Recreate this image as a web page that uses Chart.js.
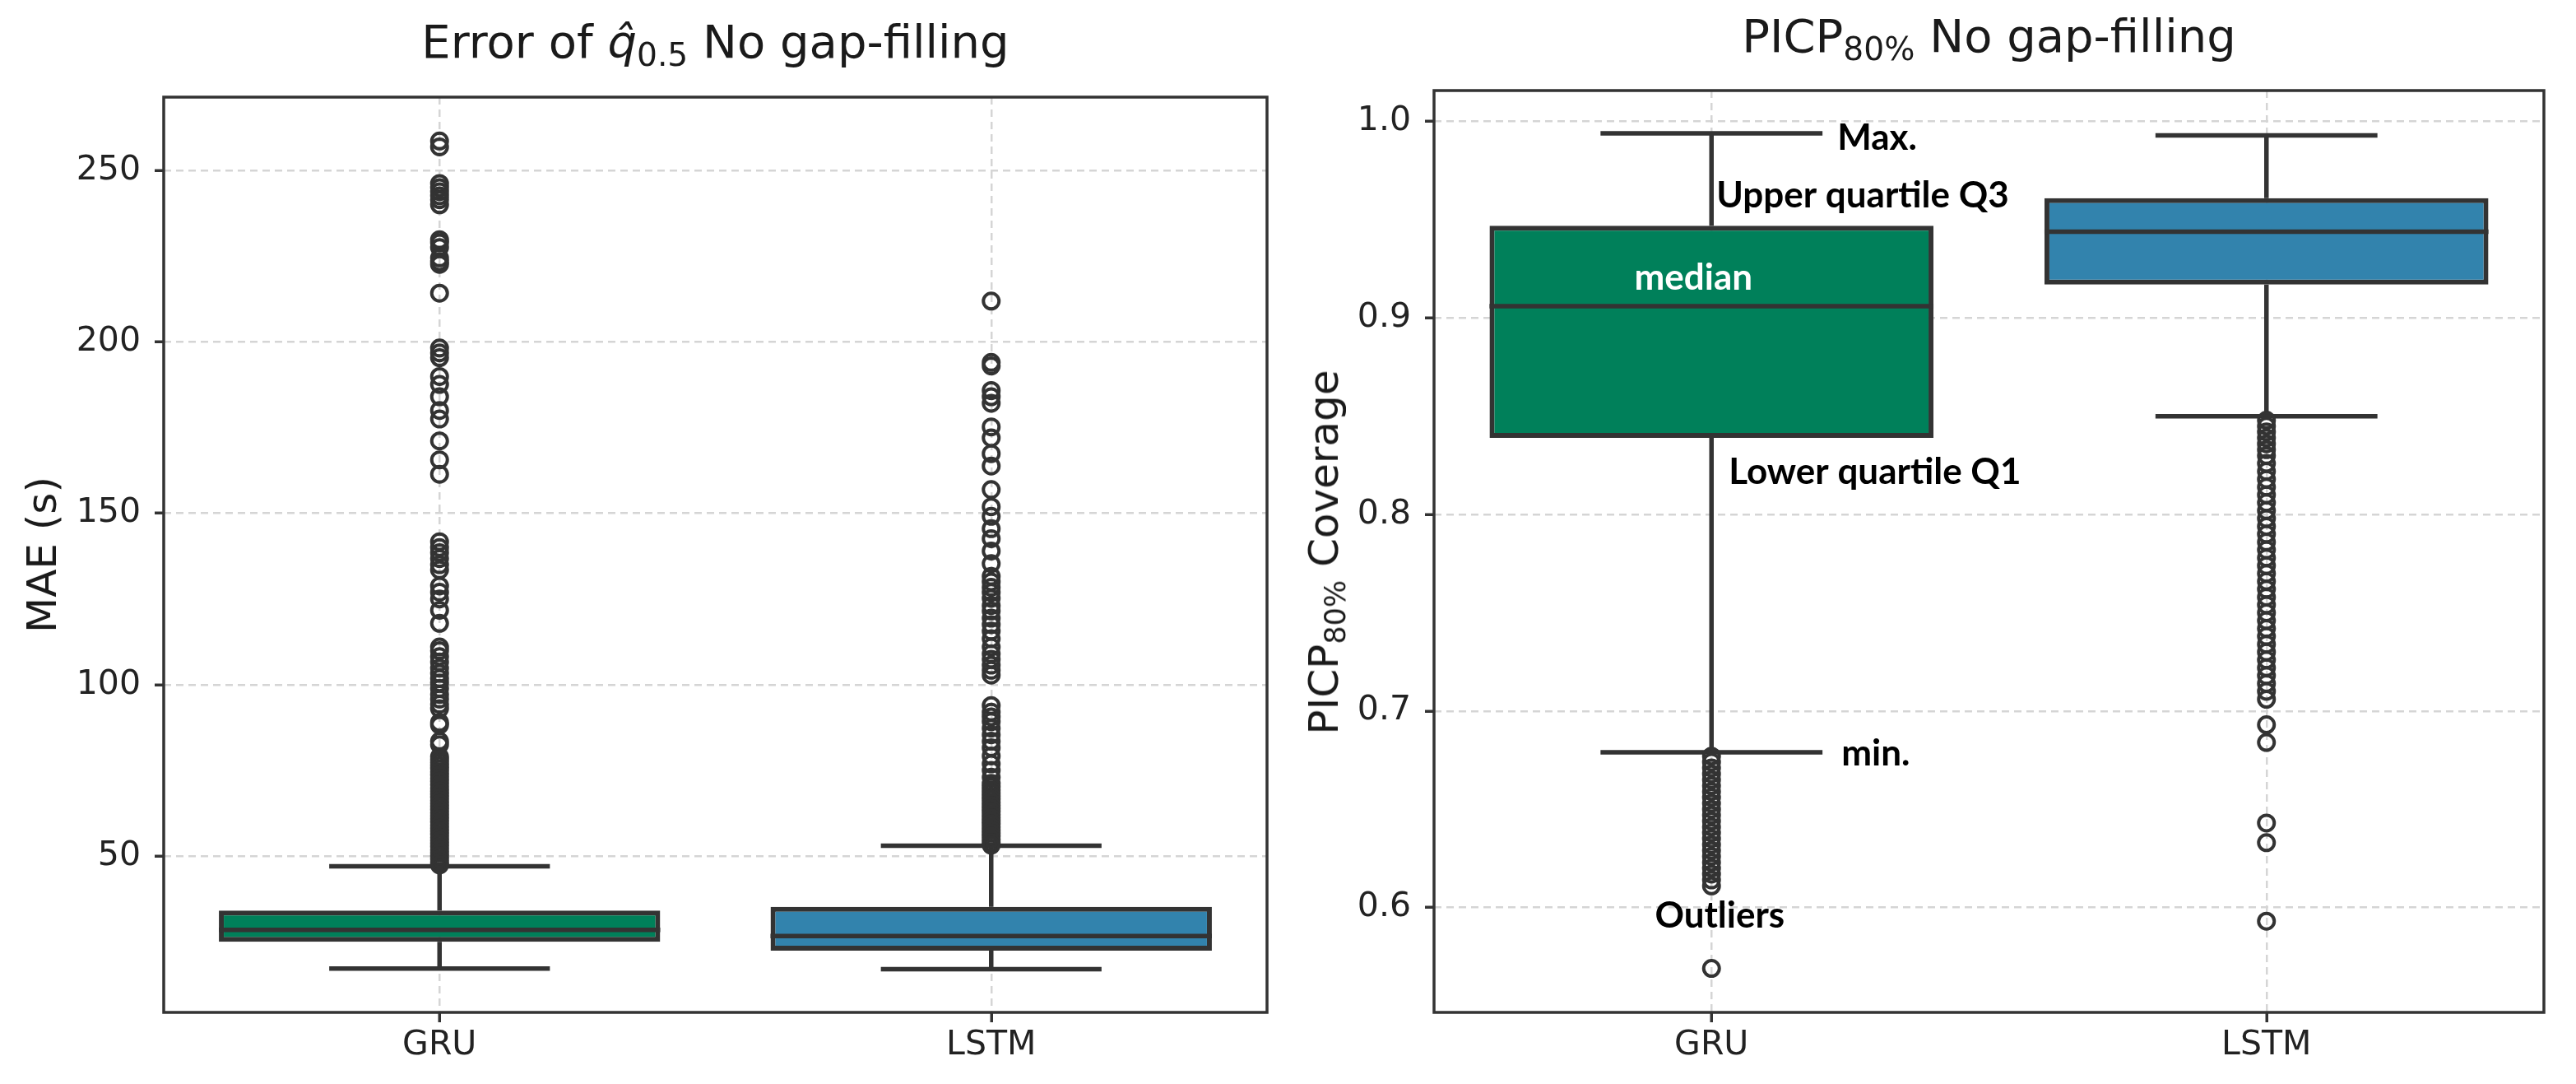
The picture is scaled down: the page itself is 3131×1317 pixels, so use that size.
<!DOCTYPE html>
<html>
<head>
<meta charset="utf-8">
<script src="https://cdn.jsdelivr.net/npm/chart.js@4.4.1/dist/chart.umd.min.js"></script>
<style>
  body { margin: 0; background: #fff; width: 3131px; height: 1317px; overflow: hidden; position: relative;
         font-family: "DejaVu Sans", sans-serif; color: #1a1a1a; }
  canvas { position: absolute; top: 0; }
  #maeChart { left: 0; }
  #picpChart { left: 1570px; }
  .title { position: absolute; font-size: 56px; line-height: 56px; text-align: center; white-space: nowrap; }
  .ylab { position: absolute; font-size: 50px; line-height: 1; white-space: nowrap;
          transform: translate(-50%, -50%) rotate(-90deg); }
  sub { font-size: 0.7em; vertical-align: -0.25em; line-height: 0; }
</style>
</head>
<body>
<canvas id="maeChart" width="1570" height="1317"></canvas>
<canvas id="picpChart" width="1561" height="1317"></canvas>
<div class="title" style="left:199px; width:1341px; top:23px">Error of <i>q̂</i><sub>0.5</sub> No gap-filling</div>
<div class="title" style="left:1743px; width:1349px; top:16px">PICP<sub>80%</sub> No gap-filling</div>
<div class="ylab" style="left:51px; top:674px">MAE (s)</div>
<div class="ylab" style="left:1609px; top:671px">PICP<sub>80%</sub> Coverage</div>

<script>
const categories = ["GRU", "LSTM"];

// [lower whisker, Q1, median, Q3, upper whisker]
const maeGru = [17.2, 25.0, 28.5, 34.1, 47.0];
const maeLstm = [17.0, 22.4, 26.7, 35.2, 53.0];
const picpGru = [0.679, 0.839, 0.906, 0.947, 0.994];
const picpLstm = [0.850, 0.917, 0.944, 0.961, 0.993];

const maeGruOutliers = [
  258.6, 256.9, 246.2, 245.0, 243.8, 242.6, 241.5, 240.0, 229.8, 228.9, 227.5, 224.5, 223.4, 222.6,
  214.2, 198.2, 196.8, 195.4, 189.9, 187.6, 184.0, 180.0, 177.5, 171.1, 165.6, 161.4,
  141.7, 140.0, 138.5, 136.8, 135.0, 133.5, 128.8, 127.0, 125.0, 121.7, 117.9,
  111.0, 109.9, 108.2, 106.6, 104.8, 103.3, 101.8, 100.5, 98.9, 97.2, 95.8, 94.3, 93.0,
  89.0, 88.2, 83.5, 82.5, 79.0, 78.2, 77.3, 76.4, 75.5, 74.6, 73.6, 72.7, 71.8, 70.8, 69.8,
  68.9, 68.0, 67.1, 66.2, 65.3, 64.4, 63.5, 62.6, 61.7, 60.8, 59.9, 59.0, 58.1, 57.2, 56.3,
  55.4, 54.5, 53.6, 52.7, 51.8, 50.9, 50.0, 49.1, 48.2, 47.4
];
const maeLstmOutliers = [
  211.9, 194.0, 193.0, 185.8, 184.0, 182.1, 175.2, 172.0, 167.4, 163.8, 156.9, 151.9, 149.1,
  145.5, 142.6, 139.0, 135.3, 131.6, 130.0, 128.4, 126.9, 125.2, 123.1, 121.5, 119.4, 117.5,
  115.6, 113.4, 111.0, 109.0, 107.4, 105.7, 104.2, 102.8, 93.9, 92.0, 90.6, 89.2, 87.3, 85.4,
  83.5, 81.6, 79.2, 76.9, 75.0, 73.0, 71.2, 70.2, 69.3, 68.4, 67.5, 66.6, 65.7, 64.8, 63.9,
  63.0, 62.1, 61.2, 60.3, 59.4, 58.5, 57.6, 56.7, 55.8, 54.9, 54.0, 53.2
];
const picpGruOutliers = [
  0.677, 0.674, 0.671, 0.668, 0.665, 0.662, 0.659, 0.656, 0.653, 0.650, 0.647, 0.644, 0.641,
  0.638, 0.635, 0.632, 0.629, 0.626, 0.623, 0.620, 0.617, 0.614, 0.611, 0.569
];
const picpLstmOutliers = [
  0.848, 0.845, 0.842, 0.839, 0.836, 0.833, 0.830, 0.826, 0.822, 0.818, 0.814, 0.810, 0.806,
  0.802, 0.798, 0.794, 0.790, 0.786, 0.782, 0.778, 0.774, 0.770, 0.766, 0.762, 0.758, 0.754,
  0.750, 0.746, 0.742, 0.738, 0.734, 0.730, 0.726, 0.722, 0.718, 0.714, 0.710, 0.706,
  0.693, 0.684, 0.643, 0.633, 0.593
];

const maeTicks = [50, 100, 150, 200, 250];
const picpTicks = [0.6, 0.7, 0.8, 0.9, 1.0];

const boxColors = ["#00805a", "#3283ad"];
const lineColor = "#333333";

// whiskers, medians and the frame are drawn through the chart's own scales
function boxPlugin(stats, notes) {
  return {
    id: "boxes",
    beforeDatasetsDraw(chart) {
      const { ctx, scales: { x, y } } = chart;
      const meta = chart.getDatasetMeta(0);
      ctx.save();
      ctx.strokeStyle = lineColor;
      ctx.lineWidth = 5.5;
      stats.forEach((s, i) => {
        const cx = x.getPixelForValue(i);
        const half = meta.data[i].width / 4;
        ctx.beginPath();
        ctx.moveTo(cx, y.getPixelForValue(s[0]));
        ctx.lineTo(cx, y.getPixelForValue(s[1]));
        ctx.moveTo(cx, y.getPixelForValue(s[3]));
        ctx.lineTo(cx, y.getPixelForValue(s[4]));
        ctx.moveTo(cx - half, y.getPixelForValue(s[0]));
        ctx.lineTo(cx + half, y.getPixelForValue(s[0]));
        ctx.moveTo(cx - half, y.getPixelForValue(s[4]));
        ctx.lineTo(cx + half, y.getPixelForValue(s[4]));
        ctx.stroke();
      });
      ctx.restore();
    },
    afterDatasetDraw(chart, args) {
      if (args.index !== 0) return;
      const { ctx, scales: { y } } = chart;
      const meta = chart.getDatasetMeta(0);
      ctx.save();
      ctx.strokeStyle = lineColor;
      ctx.lineWidth = 5.5;
      stats.forEach((s, i) => {
        const bar = meta.data[i];
        const my = y.getPixelForValue(s[2]);
        ctx.beginPath();
        ctx.moveTo(bar.x - bar.width / 2, my);
        ctx.lineTo(bar.x + bar.width / 2, my);
        ctx.stroke();
      });
      ctx.restore();
    },
    afterDraw(chart) {
      const { ctx, chartArea: a } = chart;
      ctx.save();
      ctx.strokeStyle = lineColor;
      ctx.lineWidth = 3.5;
      ctx.strokeRect(a.left, a.top, a.right - a.left, a.bottom - a.top);
      ctx.restore();
      if (notes) notes(chart);
    }
  };
}

function picpNotes(chart) {
  const { ctx, scales: { x, y } } = chart;
  const meta = chart.getDatasetMeta(0);
  const s = picpGru;
  const cx = x.getPixelForValue(0);
  const capEnd = cx + meta.data[0].width / 4;
  const denseLow = [...picpGruOutliers].sort((a, b) => a - b)[1];
  ctx.save();
  ctx.font = "bold 44px Lato";
  ctx.textBaseline = "alphabetic";
  ctx.fillStyle = "#000";
  ctx.textAlign = "left";
  ctx.fillText("Max.", capEnd + 18, y.getPixelForValue(s[4]) + 20);
  ctx.fillText("Upper quartile Q3", cx + 6, y.getPixelForValue(s[3]) - 22);
  ctx.fillText("Lower quartile Q1", cx + 21, y.getPixelForValue(s[1]) + 56);
  ctx.fillText("min.", capEnd + 23, y.getPixelForValue(s[0]) + 16);
  ctx.textAlign = "center";
  ctx.fillText("Outliers", cx + 10, y.getPixelForValue(denseLow) + 51);
  ctx.fillStyle = "#fff";
  ctx.fillText("median", cx - 22, y.getPixelForValue(s[2]) - 20);
  ctx.restore();
}

function makeChart(id, stats, outliers, yMin, yMax, ticks, fmt, yWidth, padTop, padRight, notes) {
  const points = [];
  outliers.forEach((list, i) => list.forEach(v => points.push({ x: categories[i], y: v })));
  const grid = { color: "#d5d5d5", lineWidth: 2.5, tickColor: lineColor, tickWidth: 3.5 };
  const border = { display: false, dash: [9, 6] };
  const tickFont = { family: "DejaVu Sans", size: 41 };
  return new Chart(document.getElementById(id), {
    type: "bar",
    data: {
      labels: categories,
      datasets: [
        {
          data: stats.map(s => [s[1], s[3]]),
          backgroundColor: boxColors,
          borderColor: lineColor,
          borderWidth: 6,
          borderSkipped: false,
          barPercentage: 0.8,
          categoryPercentage: 1.0,
          order: 2
        },
        {
          type: "scatter",
          data: points,
          pointRadius: 9.5,
          pointBorderWidth: 4,
          pointBorderColor: lineColor,
          pointBackgroundColor: "rgba(0,0,0,0)",
          order: 1
        }
      ]
    },
    options: {
      responsive: false,
      animation: false,
      devicePixelRatio: 1,
      events: [],
      layout: { padding: { top: padTop, right: padRight, bottom: 0, left: 0 } },
      plugins: { legend: { display: false }, tooltip: { enabled: false }, title: { display: false } },
      scales: {
        x: {
          type: "category",
          offset: true,
          grid: { ...grid, offset: false, tickLength: 12 },
          border: border,
          ticks: { font: tickFont, color: "#222", padding: 4 },
          afterFit: s => { s.height = 87; }
        },
        y: {
          min: yMin,
          max: yMax,
          grid: { ...grid, tickLength: 11 },
          border: border,
          afterBuildTicks: s => { s.ticks = ticks.map(v => ({ value: v })); },
          ticks: { font: tickFont, color: "#222", padding: 17, callback: fmt },
          afterFit: s => { s.width = yWidth; }
        }
      }
    },
    plugins: [boxPlugin(stats, notes)]
  });
}

makeChart("maeChart", [maeGru, maeLstm], [maeGruOutliers, maeLstmOutliers],
  4.4, 271.4, maeTicks, v => String(v), 199, 118, 30, null);
makeChart("picpChart", [picpGru, picpLstm], [picpGruOutliers, picpLstmOutliers],
  0.5466, 1.0158, picpTicks, v => v.toFixed(1), 173, 110, 39, picpNotes);
</script>
</body>
</html>
